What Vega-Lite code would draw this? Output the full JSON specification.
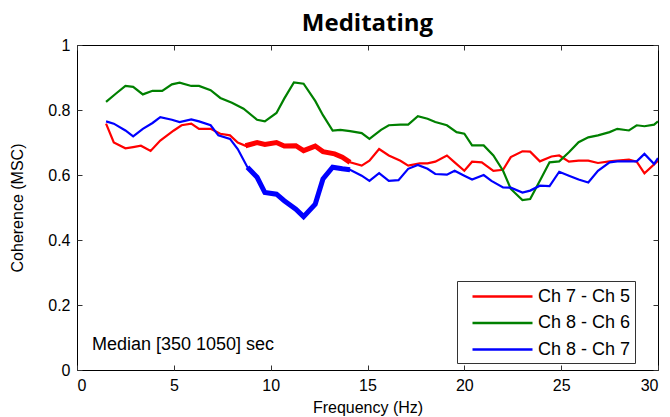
{
  "$schema": "https://vega.github.io/schema/vega-lite/v6.json",
  "autosize": {"type": "none"},
  "padding": {"left": 77, "top": 45, "right": 12, "bottom": 47},
  "width": 581,
  "height": 325,
  "background": "white",
  "title": {"text": "Meditating", "font": "Open Sans", "fontSize": 24, "fontWeight": "bold", "color": "black", "anchor": "middle", "offset": 1},
  "config": {
    "view": {"stroke": "black", "strokeWidth": 1},
    "axis": {"labelFont": "Liberation Sans", "labelFontSize": 16, "labelColor": "black", "titleFont": "Liberation Sans", "titleFontSize": 16, "titleFontWeight": "normal", "titleColor": "black", "domainColor": "black", "tickColor": "#333", "grid": false, "tickSize": -5}
  },
  "datasets": {
    "coh": [
      {"f":1.5,"c":0.758,"p":"Ch 7 - Ch 5","s":0},{"f":1.9,"c":0.70,"p":"Ch 7 - Ch 5","s":0},{"f":2.5,"c":0.682,"p":"Ch 7 - Ch 5","s":0},{"f":2.9,"c":0.686,"p":"Ch 7 - Ch 5","s":0},{"f":3.3,"c":0.69,"p":"Ch 7 - Ch 5","s":0},{"f":3.8,"c":0.674,"p":"Ch 7 - Ch 5","s":0},{"f":4.3,"c":0.706,"p":"Ch 7 - Ch 5","s":0},{"f":5.0,"c":0.737,"p":"Ch 7 - Ch 5","s":0},{"f":5.4,"c":0.753,"p":"Ch 7 - Ch 5","s":0},{"f":5.9,"c":0.758,"p":"Ch 7 - Ch 5","s":0},{"f":6.3,"c":0.742,"p":"Ch 7 - Ch 5","s":0},{"f":6.9,"c":0.742,"p":"Ch 7 - Ch 5","s":0},{"f":7.4,"c":0.727,"p":"Ch 7 - Ch 5","s":0},{"f":7.9,"c":0.722,"p":"Ch 7 - Ch 5","s":0},{"f":8.3,"c":0.70,"p":"Ch 7 - Ch 5","s":0},{"f":8.7,"c":0.69,"p":"Ch 7 - Ch 5","s":1},{"f":9.3,"c":0.70,"p":"Ch 7 - Ch 5","s":1},{"f":9.7,"c":0.694,"p":"Ch 7 - Ch 5","s":1},{"f":10.3,"c":0.70,"p":"Ch 7 - Ch 5","s":1},{"f":10.7,"c":0.689,"p":"Ch 7 - Ch 5","s":1},{"f":11.3,"c":0.69,"p":"Ch 7 - Ch 5","s":1},{"f":11.7,"c":0.675,"p":"Ch 7 - Ch 5","s":1},{"f":12.3,"c":0.689,"p":"Ch 7 - Ch 5","s":1},{"f":12.7,"c":0.672,"p":"Ch 7 - Ch 5","s":1},{"f":13.3,"c":0.665,"p":"Ch 7 - Ch 5","s":1},{"f":13.7,"c":0.655,"p":"Ch 7 - Ch 5","s":1},{"f":14.1,"c":0.639,"p":"Ch 7 - Ch 5","s":1},{"f":14.7,"c":0.629,"p":"Ch 7 - Ch 5","s":0},{"f":15.1,"c":0.644,"p":"Ch 7 - Ch 5","s":0},{"f":15.6,"c":0.68,"p":"Ch 7 - Ch 5","s":0},{"f":16.1,"c":0.66,"p":"Ch 7 - Ch 5","s":0},{"f":16.7,"c":0.644,"p":"Ch 7 - Ch 5","s":0},{"f":17.1,"c":0.629,"p":"Ch 7 - Ch 5","s":0},{"f":17.7,"c":0.636,"p":"Ch 7 - Ch 5","s":0},{"f":18.1,"c":0.636,"p":"Ch 7 - Ch 5","s":0},{"f":18.5,"c":0.641,"p":"Ch 7 - Ch 5","s":0},{"f":19.1,"c":0.66,"p":"Ch 7 - Ch 5","s":0},{"f":19.5,"c":0.639,"p":"Ch 7 - Ch 5","s":0},{"f":20.0,"c":0.613,"p":"Ch 7 - Ch 5","s":0},{"f":20.4,"c":0.641,"p":"Ch 7 - Ch 5","s":0},{"f":20.9,"c":0.639,"p":"Ch 7 - Ch 5","s":0},{"f":21.5,"c":0.613,"p":"Ch 7 - Ch 5","s":0},{"f":22.0,"c":0.616,"p":"Ch 7 - Ch 5","s":0},{"f":22.4,"c":0.655,"p":"Ch 7 - Ch 5","s":0},{"f":23.0,"c":0.673,"p":"Ch 7 - Ch 5","s":0},{"f":23.4,"c":0.672,"p":"Ch 7 - Ch 5","s":0},{"f":23.9,"c":0.642,"p":"Ch 7 - Ch 5","s":0},{"f":24.5,"c":0.657,"p":"Ch 7 - Ch 5","s":0},{"f":24.9,"c":0.66,"p":"Ch 7 - Ch 5","s":0},{"f":25.4,"c":0.641,"p":"Ch 7 - Ch 5","s":0},{"f":25.9,"c":0.644,"p":"Ch 7 - Ch 5","s":0},{"f":26.4,"c":0.644,"p":"Ch 7 - Ch 5","s":0},{"f":26.9,"c":0.637,"p":"Ch 7 - Ch 5","s":0},{"f":27.5,"c":0.642,"p":"Ch 7 - Ch 5","s":0},{"f":27.9,"c":0.644,"p":"Ch 7 - Ch 5","s":0},{"f":28.5,"c":0.647,"p":"Ch 7 - Ch 5","s":0},{"f":28.9,"c":0.641,"p":"Ch 7 - Ch 5","s":0},{"f":29.3,"c":0.605,"p":"Ch 7 - Ch 5","s":0},{"f":30.0,"c":0.644,"p":"Ch 7 - Ch 5","s":0},
      {"f":1.5,"c":0.825,"p":"Ch 8 - Ch 6","s":0},{"f":2.0,"c":0.85,"p":"Ch 8 - Ch 6","s":0},{"f":2.5,"c":0.874,"p":"Ch 8 - Ch 6","s":0},{"f":2.9,"c":0.871,"p":"Ch 8 - Ch 6","s":0},{"f":3.4,"c":0.848,"p":"Ch 8 - Ch 6","s":0},{"f":3.9,"c":0.859,"p":"Ch 8 - Ch 6","s":0},{"f":4.4,"c":0.859,"p":"Ch 8 - Ch 6","s":0},{"f":4.9,"c":0.879,"p":"Ch 8 - Ch 6","s":0},{"f":5.3,"c":0.884,"p":"Ch 8 - Ch 6","s":0},{"f":5.9,"c":0.874,"p":"Ch 8 - Ch 6","s":0},{"f":6.3,"c":0.874,"p":"Ch 8 - Ch 6","s":0},{"f":6.9,"c":0.861,"p":"Ch 8 - Ch 6","s":0},{"f":7.4,"c":0.837,"p":"Ch 8 - Ch 6","s":0},{"f":8.0,"c":0.822,"p":"Ch 8 - Ch 6","s":0},{"f":8.6,"c":0.804,"p":"Ch 8 - Ch 6","s":0},{"f":9.3,"c":0.77,"p":"Ch 8 - Ch 6","s":0},{"f":9.7,"c":0.765,"p":"Ch 8 - Ch 6","s":0},{"f":10.3,"c":0.791,"p":"Ch 8 - Ch 6","s":0},{"f":10.7,"c":0.835,"p":"Ch 8 - Ch 6","s":0},{"f":11.2,"c":0.885,"p":"Ch 8 - Ch 6","s":0},{"f":11.7,"c":0.881,"p":"Ch 8 - Ch 6","s":0},{"f":12.3,"c":0.828,"p":"Ch 8 - Ch 6","s":0},{"f":12.7,"c":0.784,"p":"Ch 8 - Ch 6","s":0},{"f":13.2,"c":0.737,"p":"Ch 8 - Ch 6","s":0},{"f":13.6,"c":0.739,"p":"Ch 8 - Ch 6","s":0},{"f":14.1,"c":0.735,"p":"Ch 8 - Ch 6","s":0},{"f":14.7,"c":0.729,"p":"Ch 8 - Ch 6","s":0},{"f":15.1,"c":0.711,"p":"Ch 8 - Ch 6","s":0},{"f":15.7,"c":0.739,"p":"Ch 8 - Ch 6","s":0},{"f":16.1,"c":0.753,"p":"Ch 8 - Ch 6","s":0},{"f":16.7,"c":0.755,"p":"Ch 8 - Ch 6","s":0},{"f":17.1,"c":0.755,"p":"Ch 8 - Ch 6","s":0},{"f":17.6,"c":0.781,"p":"Ch 8 - Ch 6","s":0},{"f":18.1,"c":0.773,"p":"Ch 8 - Ch 6","s":0},{"f":18.5,"c":0.763,"p":"Ch 8 - Ch 6","s":0},{"f":19.1,"c":0.753,"p":"Ch 8 - Ch 6","s":0},{"f":19.6,"c":0.732,"p":"Ch 8 - Ch 6","s":0},{"f":20.0,"c":0.727,"p":"Ch 8 - Ch 6","s":0},{"f":20.4,"c":0.691,"p":"Ch 8 - Ch 6","s":0},{"f":21.0,"c":0.691,"p":"Ch 8 - Ch 6","s":0},{"f":21.5,"c":0.66,"p":"Ch 8 - Ch 6","s":0},{"f":22.0,"c":0.613,"p":"Ch 8 - Ch 6","s":0},{"f":22.4,"c":0.557,"p":"Ch 8 - Ch 6","s":0},{"f":23.0,"c":0.523,"p":"Ch 8 - Ch 6","s":0},{"f":23.4,"c":0.526,"p":"Ch 8 - Ch 6","s":0},{"f":23.9,"c":0.582,"p":"Ch 8 - Ch 6","s":0},{"f":24.4,"c":0.639,"p":"Ch 8 - Ch 6","s":0},{"f":24.9,"c":0.642,"p":"Ch 8 - Ch 6","s":0},{"f":25.4,"c":0.67,"p":"Ch 8 - Ch 6","s":0},{"f":25.9,"c":0.701,"p":"Ch 8 - Ch 6","s":0},{"f":26.4,"c":0.716,"p":"Ch 8 - Ch 6","s":0},{"f":26.9,"c":0.722,"p":"Ch 8 - Ch 6","s":0},{"f":27.5,"c":0.732,"p":"Ch 8 - Ch 6","s":0},{"f":27.9,"c":0.742,"p":"Ch 8 - Ch 6","s":0},{"f":28.5,"c":0.737,"p":"Ch 8 - Ch 6","s":0},{"f":28.9,"c":0.753,"p":"Ch 8 - Ch 6","s":0},{"f":29.3,"c":0.75,"p":"Ch 8 - Ch 6","s":0},{"f":29.8,"c":0.755,"p":"Ch 8 - Ch 6","s":0},{"f":30.0,"c":0.765,"p":"Ch 8 - Ch 6","s":0},
      {"f":1.5,"c":0.765,"p":"Ch 8 - Ch 7","s":0},{"f":1.9,"c":0.758,"p":"Ch 8 - Ch 7","s":0},{"f":2.5,"c":0.737,"p":"Ch 8 - Ch 7","s":0},{"f":2.9,"c":0.719,"p":"Ch 8 - Ch 7","s":0},{"f":3.4,"c":0.742,"p":"Ch 8 - Ch 7","s":0},{"f":3.9,"c":0.76,"p":"Ch 8 - Ch 7","s":0},{"f":4.3,"c":0.778,"p":"Ch 8 - Ch 7","s":0},{"f":4.9,"c":0.77,"p":"Ch 8 - Ch 7","s":0},{"f":5.3,"c":0.763,"p":"Ch 8 - Ch 7","s":0},{"f":5.9,"c":0.771,"p":"Ch 8 - Ch 7","s":0},{"f":6.3,"c":0.765,"p":"Ch 8 - Ch 7","s":0},{"f":6.9,"c":0.753,"p":"Ch 8 - Ch 7","s":0},{"f":7.3,"c":0.722,"p":"Ch 8 - Ch 7","s":0},{"f":7.9,"c":0.711,"p":"Ch 8 - Ch 7","s":0},{"f":8.3,"c":0.68,"p":"Ch 8 - Ch 7","s":0},{"f":8.8,"c":0.624,"p":"Ch 8 - Ch 7","s":1},{"f":9.3,"c":0.593,"p":"Ch 8 - Ch 7","s":1},{"f":9.7,"c":0.546,"p":"Ch 8 - Ch 7","s":1},{"f":10.3,"c":0.541,"p":"Ch 8 - Ch 7","s":1},{"f":10.7,"c":0.521,"p":"Ch 8 - Ch 7","s":1},{"f":11.3,"c":0.495,"p":"Ch 8 - Ch 7","s":1},{"f":11.7,"c":0.472,"p":"Ch 8 - Ch 7","s":1},{"f":12.3,"c":0.51,"p":"Ch 8 - Ch 7","s":1},{"f":12.7,"c":0.588,"p":"Ch 8 - Ch 7","s":1},{"f":13.2,"c":0.624,"p":"Ch 8 - Ch 7","s":1},{"f":13.7,"c":0.619,"p":"Ch 8 - Ch 7","s":1},{"f":14.1,"c":0.616,"p":"Ch 8 - Ch 7","s":1},{"f":14.7,"c":0.598,"p":"Ch 8 - Ch 7","s":0},{"f":15.1,"c":0.582,"p":"Ch 8 - Ch 7","s":0},{"f":15.6,"c":0.606,"p":"Ch 8 - Ch 7","s":0},{"f":16.1,"c":0.582,"p":"Ch 8 - Ch 7","s":0},{"f":16.6,"c":0.584,"p":"Ch 8 - Ch 7","s":0},{"f":17.1,"c":0.619,"p":"Ch 8 - Ch 7","s":0},{"f":17.6,"c":0.631,"p":"Ch 8 - Ch 7","s":0},{"f":18.1,"c":0.619,"p":"Ch 8 - Ch 7","s":0},{"f":18.5,"c":0.603,"p":"Ch 8 - Ch 7","s":0},{"f":19.1,"c":0.601,"p":"Ch 8 - Ch 7","s":0},{"f":19.5,"c":0.613,"p":"Ch 8 - Ch 7","s":0},{"f":20.0,"c":0.598,"p":"Ch 8 - Ch 7","s":0},{"f":20.4,"c":0.586,"p":"Ch 8 - Ch 7","s":0},{"f":21.0,"c":0.6,"p":"Ch 8 - Ch 7","s":0},{"f":21.4,"c":0.582,"p":"Ch 8 - Ch 7","s":0},{"f":22.0,"c":0.562,"p":"Ch 8 - Ch 7","s":0},{"f":22.4,"c":0.561,"p":"Ch 8 - Ch 7","s":0},{"f":23.0,"c":0.546,"p":"Ch 8 - Ch 7","s":0},{"f":23.4,"c":0.552,"p":"Ch 8 - Ch 7","s":0},{"f":23.9,"c":0.567,"p":"Ch 8 - Ch 7","s":0},{"f":24.4,"c":0.566,"p":"Ch 8 - Ch 7","s":0},{"f":24.9,"c":0.61,"p":"Ch 8 - Ch 7","s":0},{"f":25.4,"c":0.598,"p":"Ch 8 - Ch 7","s":0},{"f":25.9,"c":0.586,"p":"Ch 8 - Ch 7","s":0},{"f":26.4,"c":0.577,"p":"Ch 8 - Ch 7","s":0},{"f":26.9,"c":0.613,"p":"Ch 8 - Ch 7","s":0},{"f":27.5,"c":0.639,"p":"Ch 8 - Ch 7","s":0},{"f":27.9,"c":0.642,"p":"Ch 8 - Ch 7","s":0},{"f":28.5,"c":0.642,"p":"Ch 8 - Ch 7","s":0},{"f":28.9,"c":0.642,"p":"Ch 8 - Ch 7","s":0},{"f":29.3,"c":0.665,"p":"Ch 8 - Ch 7","s":0},{"f":29.8,"c":0.634,"p":"Ch 8 - Ch 7","s":0},{"f":30.0,"c":0.652,"p":"Ch 8 - Ch 7","s":0}
    ],
    "note": [{"f": 0.77, "c": 0.077, "label": "Median [350 1050] sec"}]
  },
  "resolve": {"axis": {"x": "independent", "y": "independent"}},
  "layer": [
    {
      "data": {"name": "coh"},
      "mark": {"type": "line", "strokeWidth": 2.2, "clip": true},
      "encoding": {
        "x": {"field": "f", "type": "quantitative", "scale": {"domain": [0, 30], "nice": false}, "axis": {"orient": "bottom", "title": "Frequency (Hz)", "values": [0, 5, 10, 15, 20, 25, 30], "labelPadding": 12, "titlePadding": 6, "domain": false}},
        "y": {"field": "c", "type": "quantitative", "scale": {"domain": [0, 1], "nice": false}, "axis": {"orient": "left", "title": "Coherence (MSC)", "values": [0, 0.2, 0.4, 0.6, 0.8, 1], "format": "~g", "labelPadding": 12, "titlePadding": 22, "domain": false}},
        "color": {"field": "p", "type": "nominal", "scale": {"domain": ["Ch 7 - Ch 5", "Ch 8 - Ch 6", "Ch 8 - Ch 7"], "range": ["#ff0000", "#008000", "#0000ff"]},
          "legend": {"title": null, "orient": "none", "legendX": 380, "legendY": 236, "direction": "vertical", "symbolType": "M-3,0H3", "symbolSize": 400, "symbolStrokeWidth": 2.5, "symbolOffset": 30, "labelFont": "Liberation Sans", "labelFontSize": 18, "labelColor": "black", "strokeColor": "#333", "fillColor": "white", "padding": 4, "rowPadding": 5.5, "labelOffset": 24}}
      }
    },
    {
      "data": {"name": "coh"},
      "transform": [{"filter": "datum.s == 1"}],
      "mark": {"type": "line", "strokeWidth": 5, "clip": true},
      "encoding": {
        "x": {"field": "f", "type": "quantitative", "axis": {"orient": "top", "labels": false, "title": null, "values": [0, 5, 10, 15, 20, 25, 30], "domain": false}},
        "y": {"field": "c", "type": "quantitative", "axis": {"orient": "right", "labels": false, "title": null, "values": [0, 0.2, 0.4, 0.6, 0.8, 1], "domain": false}},
        "color": {"field": "p", "type": "nominal"}
      }
    },
    {
      "data": {"name": "note"},
      "mark": {"type": "text", "align": "left", "baseline": "middle", "font": "Liberation Sans", "fontSize": 18, "color": "black"},
      "encoding": {
        "x": {"field": "f", "type": "quantitative", "axis": null},
        "y": {"field": "c", "type": "quantitative", "axis": null},
        "text": {"field": "label"}
      }
    }
  ]
}
